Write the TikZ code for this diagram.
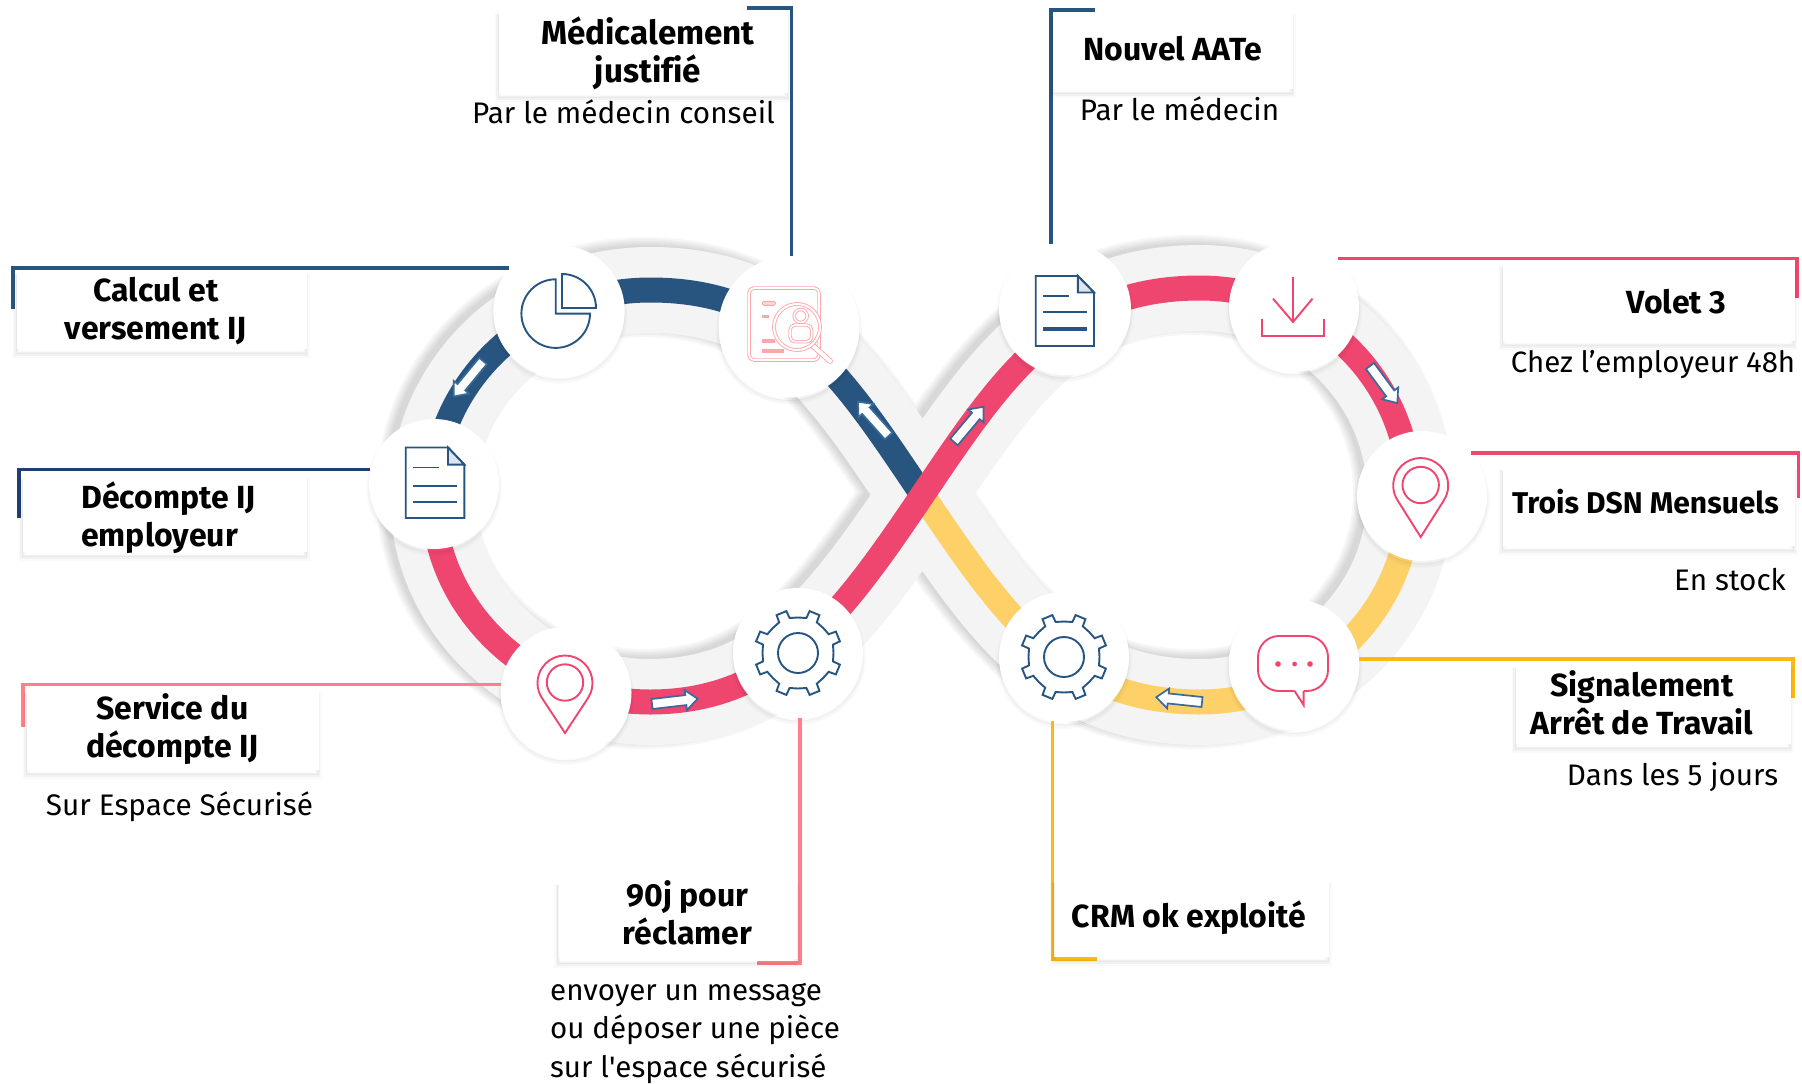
\documentclass[tikz,border=0pt]{standalone}
\usepackage{fontspec}
\setmainfont{Fira Sans}
\newfontfamily\rawfira{Fira Sans}
\usetikzlibrary{calc}
\definecolor{navy}{HTML}{28557F}
\definecolor{navyd}{HTML}{1F3F70}
\definecolor{rosea}{HTML}{EF4670}
\definecolor{salmon}{HTML}{FF8088}
\definecolor{pale}{HTML}{FFA6AB}
\definecolor{gold}{HTML}{FDB913}
\definecolor{sun}{HTML}{FDD168}
\definecolor{bandg}{HTML}{F4F4F4}
\definecolor{arrowb}{HTML}{386A9C}
\tikzset{
  softshadow/.style={
    preaction={draw=black,draw opacity=.015,line width=6pt,transform canvas={shift={(0pt,-4pt)}}},
    preaction={draw=black,draw opacity=.02,line width=3.5pt,transform canvas={shift={(0pt,-4pt)}}},
    preaction={draw=black,draw opacity=.03,line width=1pt,transform canvas={shift={(0pt,-3pt)}}}},
  boxshadow/.style={
    preaction={draw=black,draw opacity=.02,line width=7pt,transform canvas={shift={(-1pt,-5pt)}}},
    preaction={draw=black,draw opacity=.03,line width=4pt,transform canvas={shift={(-1pt,-5pt)}}},
    preaction={draw=black,draw opacity=.04,line width=1pt,transform canvas={shift={(-1pt,-4pt)}}}},
  hub/.style={circle,fill=white,inner sep=0pt,softshadow},
  boxn/.style={rectangle,fill=white,inner sep=0pt,boxshadow},
  head/.style={inner sep=0pt,anchor=base,align=center,font=\fontsize{32}{38}\bfseries\selectfont},
  headl/.style={head,align=left},
  sub/.style={inner sep=0pt,anchor=base,align=center,font=\fontsize{29.7}{39}\selectfont},
  subl/.style={sub,align=left},
  cn/.style={line width=3.6pt,line join=miter},
  band/.style={line width=25pt,line cap=butt},
  icon/.style={line width=1.9pt,line join=miter},
  flow/.style={draw=arrowb,fill=white,line width=1.7pt,line join=miter}
}
% the eight pieces of the figure-of-eight track
\newcommand{\LU}{(922.5,495) .. controls (844,379) and (790,290) .. (650,290)}
\newcommand{\LA}{.. controls (532,290) and (433,382) .. (433,496)}
\newcommand{\LB}{(433,496) .. controls (433,610) and (532,702) .. (650,702)}
\newcommand{\LL}{.. controls (780,702) and (844,611) .. (922.5,495)}
\newcommand{\RU}{.. controls (1001,379) and (1060,288) .. (1200,288)}
\newcommand{\RA}{.. controls (1317,288) and (1410,381) .. (1410,495)}
\newcommand{\RB}{(1410,495) .. controls (1410,609) and (1317,702) .. (1200,702)}
\newcommand{\RL}{.. controls (1060,702) and (1001,611) .. (922.5,495)}
\newcommand{\bandpath}{\LU \LA .. controls (433,610) and (532,702) .. (650,702) \LL \RU \RA .. controls (1410,609) and (1317,702) .. (1200,702) \RL}
\newcommand{\flowarrow}[3]{\begin{scope}[shift={(#1,#2)},rotate=#3,y=1pt]
  \draw[flow] (0,-5)--(34,-5)--(34,-10)--(46,0)--(34,10)--(34,5)--(0,5)--cycle;\end{scope}}
\begin{document}
\begin{tikzpicture}[x=1pt,y=-1pt]
\useasboundingbox (0,0) rectangle (1802,1084);
\fill[white] (0,0) rectangle (1802,1084);
% band shadow and band
\foreach \w in {84,88,92,96,100}{
  \draw[black,draw opacity=.03,line width=\w pt,shift={(-7,-3)}] \bandpath;}
\draw[bandg,line width=86pt] \bandpath;
% coloured strips
\draw[band,sun] \RB \RL;
\draw[band,navy] \LU \LA;
\draw[band,rosea] \LB \LL \RU \RA;
% direction arrows
\flowarrow{483}{361}{230.5}
\flowarrow{652}{704}{6.6}
\flowarrow{888.6}{436}{131.8}
\flowarrow{954}{442}{50}
\flowarrow{1370}{366}{-53.6}
\flowarrow{1202}{702}{174}
% hubs
\node[hub,minimum size=131.4pt] (c-pie) at (559,311) {};
\node[hub,minimum size=141pt] (c-search) at (789,327) {};
\node[hub,minimum size=130pt] (c-doc) at (434,484) {};
\node[hub,minimum size=131pt] (c-pin) at (566,692.5) {};
\node[hub,minimum size=130pt] (c-gear) at (798,653) {};
\node[hub,minimum size=132pt] (c-doc2) at (1065,309) {};
\node[hub,minimum size=130pt] (c-dl) at (1294,307) {};
\node[hub,minimum size=130pt] (c-pin2) at (1422,496) {};
\node[hub,minimum size=131pt] (c-chat) at (1294,665) {};
\node[hub,minimum size=130pt] (c-gear2) at (1064,657) {};
% icons
\begin{scope}[shift={(c-pie)},x=1pt,y=1pt,icon,navy]
  \draw (-3.3,31.7) arc[start angle=90,end angle=360,radius=34.3] -- (-3.3,-2.6) -- cycle;
  \draw (3,37) arc[start angle=90,end angle=0,radius=34] -- (3,3) -- cycle;
\end{scope}
\begin{scope}[shift={(c-doc)},x=1pt,y=1pt,icon,navy]
  \draw (-28.3,36.5)--(14,36.5)--(30.3,19.4)--(30.3,-34)--(-28.3,-34)--cycle;
  \draw[fill=navy!15] (14,36.5)--(14,19.4)--(30.3,19.4)--cycle;
  \draw (-21,16.5)--(4.6,16.5) (-21,-2)--(23.2,-2) (-21,-17.8)--(23.2,-17.8);
\end{scope}
\begin{scope}[shift={(c-doc2)},x=1pt,y=1pt,icon,navy]
  \draw (-29.3,33)--(12.9,33)--(29,16.5)--(29,-37)--(-29.3,-37)--cycle;
  \draw[fill=navy!15] (12.9,33)--(12.9,16.5)--(29,16.5)--cycle;
  \draw (-22,13.3)--(3.6,13.3) (-22,-2.8)--(22.1,-2.8);
  \draw[line width=4pt] (-22,-20)--(22.1,-20);
\end{scope}
\begin{scope}[shift={(c-gear)},x=1pt,y=1pt,icon,navy]
  \draw (13.5:36) \foreach \a in {0,45,...,315}{ -- (\a+13.5:36) -- (\a+15.5:43.5) -- (\a+29.5:43.5) -- (\a+31.5:36) -- (\a+45:35.5)} -- cycle;
  \draw (0,0) circle[radius=20];
\end{scope}
\begin{scope}[shift={(c-gear2)},x=1pt,y=1pt,icon,navy]
  \draw (13.5:36) \foreach \a in {0,45,...,315}{ -- (\a+13.5:36) -- (\a+15.5:43.5) -- (\a+29.5:43.5) -- (\a+31.5:36) -- (\a+45:35.5)} -- cycle;
  \draw (0,0) circle[radius=20];
\end{scope}
\begin{scope}[shift={(c-pin)},x=1pt,y=1pt,icon,rosea]
  \draw (-1,-40.5)--(21.96,-5.64) arc[start angle=-33.4,end angle=213.4,radius=27.5]--cycle;
  \draw (-1,10) circle[radius=18.2];
\end{scope}
\begin{scope}[shift={(c-pin2)},x=1pt,y=1pt,icon,rosea]
  \draw (-1.3,-41)--(21.66,-4.64) arc[start angle=-33.4,end angle=213.4,radius=27.5]--cycle;
  \draw (-1.3,11) circle[radius=18.2];
\end{scope}
\begin{scope}[shift={(c-dl)},x=1pt,y=1pt,icon,rosea]
  \draw (-1,30)--(-1,-15);
  \draw (-21,8.4)--(-1,-15)--(18.5,8.4);
  \draw (-32,-12)--(-32,-29)--(30,-29)--(30,-12);
\end{scope}
\begin{scope}[shift={(c-chat)},x=1pt,y=1pt,icon,rosea]
  \draw[rounded corners=21pt] (0.6,-26)--(-36,-26)--(-36,29)--(34,29)--(34,-26)--(9.6,-26);
  \draw (0.6,-26)--(9.6,-40)--(9.6,-26);
  \fill (-16,1) circle[radius=2.8] (0.6,1) circle[radius=2.4] (16,1) circle[radius=2.8];
\end{scope}
\begin{scope}[shift={(c-search)},x=1pt,y=1pt,pale]
  \draw[line width=.9pt,double=white,double distance=1.7pt,rounded corners=5pt] (-40,39) rectangle (30,-33);
  \draw[line width=.9pt,double=white,double distance=4pt,line cap=round] (23,-18)--(41,-34);
  \draw[line width=.9pt,double=white,double distance=2pt,fill=white] (8,0) circle[radius=23];
  \draw[line width=.9pt,double=white,double distance=1.6pt] (11.7,11) circle[radius=6.5];
  \draw[line width=.9pt,double=white,double distance=1.6pt,rounded corners=5pt] (1,-14.7)--(1,2)--(22.7,2)--(22.7,-14.7)--cycle;
  \draw[line width=.9pt,fill=pale!45,rounded corners=1.5pt] (-26.7,25.7) rectangle (-13.5,21.7);
  \fill[pale] (-26.7,12) rectangle (-20,8.6);
  \fill[pale] (-26.7,-11.7) rectangle (-14,-15.7);
  \fill[pale] (-26.7,-21.7) rectangle (-5,-25.7);
\end{scope}
% connectors
\coordinate (e-calc) at (13,308.6);
\coordinate (e-dec) at (19,518);
\coordinate (e-serv) at (23,726.5);
\coordinate (e-med) at (747,8);
\coordinate (e-nouv) at (1095,10);
\coordinate (e-volet) at (1797,298);
\coordinate (e-trois) at (1798.6,498);
\coordinate (e-sig) at (1793,698);
\coordinate (e-90) at (757,963);
\coordinate (e-crm) at (1097,959);
\draw[cn,navy] (e-calc) |- (c-pie.139.2);
\draw[cn,navyd] (e-dec) |- (c-doc.167);
\draw[cn,salmon] (e-serv) |- (c-pin.173.5);
\draw[cn,navy] (e-med) -| (c-search.88.4);
\draw[cn,navy] (e-nouv) -| (c-doc2.102);
\draw[cn,rosea] (e-volet) |- (c-dl.48);
\draw[cn,rosea] (e-trois) |- (c-pin2.41);
\draw[cn,gold] (e-sig) |- (c-chat.5.6);
\draw[cn,salmon] (e-90) -| (c-gear.-88);
\draw[cn,gold] (e-crm) -| (c-gear2.-100);
% label boxes
\node[boxn,minimum width=290pt,minimum height=78pt] (b-calc) at (162,310) {};
\node[boxn,minimum width=284pt,minimum height=76pt] (b-dec) at (165,514) {};
\node[boxn,minimum width=292pt,minimum height=80pt] (b-serv) at (173,730) {};
\node[boxn,minimum width=289pt,minimum height=82pt] (b-med) at (643.5,52) {};
\node[boxn,minimum width=240pt,minimum height=76pt] (b-nouv) at (1173,51) {};
\node[boxn,minimum width=291.5pt,minimum height=77pt] (b-volet) at (1649,302.5) {};
\node[boxn,minimum width=291.5pt,minimum height=79pt] (b-trois) at (1649,506.5) {};
\node[boxn,minimum width=275pt,minimum height=79pt] (b-sig) at (1653.5,704.5) {};
\node[boxn,minimum width=238.5pt,minimum height=77pt] (b-90) at (678,920.5) {};
\node[boxn,minimum width=274.5pt,minimum height=77pt] (b-crm) at (1192,918.5) {};
% texts
\node[head,font=\fontsize{33.2}{38}\bfseries\selectfont] (t-med) at (648,82) {Médicalement\\justif\kern0pt ié};
\node[sub] (s-med) at (623.5,123) {Par le médecin conseil};
\node[head] (t-nouv) at (1173,60) {Nouvel AATe};
\node[sub] (s-nouv) at (1179.5,120) {Par le médecin};
\node[head] (t-calc) at (156,339) {Calcul et\\versement IJ};
\node[headl,anchor=base west] (t-dec) at (81,546) {Décompte IJ\\employeur};
\node[head] (t-serv) at (172.5,757.5) {Service du\\décompte IJ};
\node[sub] (s-serv) at (179.5,815.5) {Sur Espace Sécurisé};
\node[head] (t-volet) at (1676.5,313) {Volet 3};
\node[sub,font=\fontsize{29.4}{39}\selectfont] (s-volet) at (1653,372) {Chez l’employeur 48h};
\node[head,font=\fontsize{30}{38}\bfseries\selectfont] (t-trois) at (1645.5,513) {Trois DSN Mensuels};
\node[sub] (s-trois) at (1730,590) {En stock};
\node[head] (t-sig) at (1642,734) {Signalement\\Arrêt de Travail};
\node[sub] (s-sig) at (1672.5,785) {Dans les 5 jours};
\node[head] (t-90) at (687.5,944.5) {90j pour\\réclamer};
\node[subl,anchor=base west,font=\fontsize{29.5}{38.5}\selectfont] (s-90) at (550,1077) {envoyer un message\\ou déposer une pièce\\sur l{\rawfira\char39}espace sécurisé};
\node[head] (t-crm) at (1189,927) {CRM ok exploité};
\end{tikzpicture}
\end{document}
